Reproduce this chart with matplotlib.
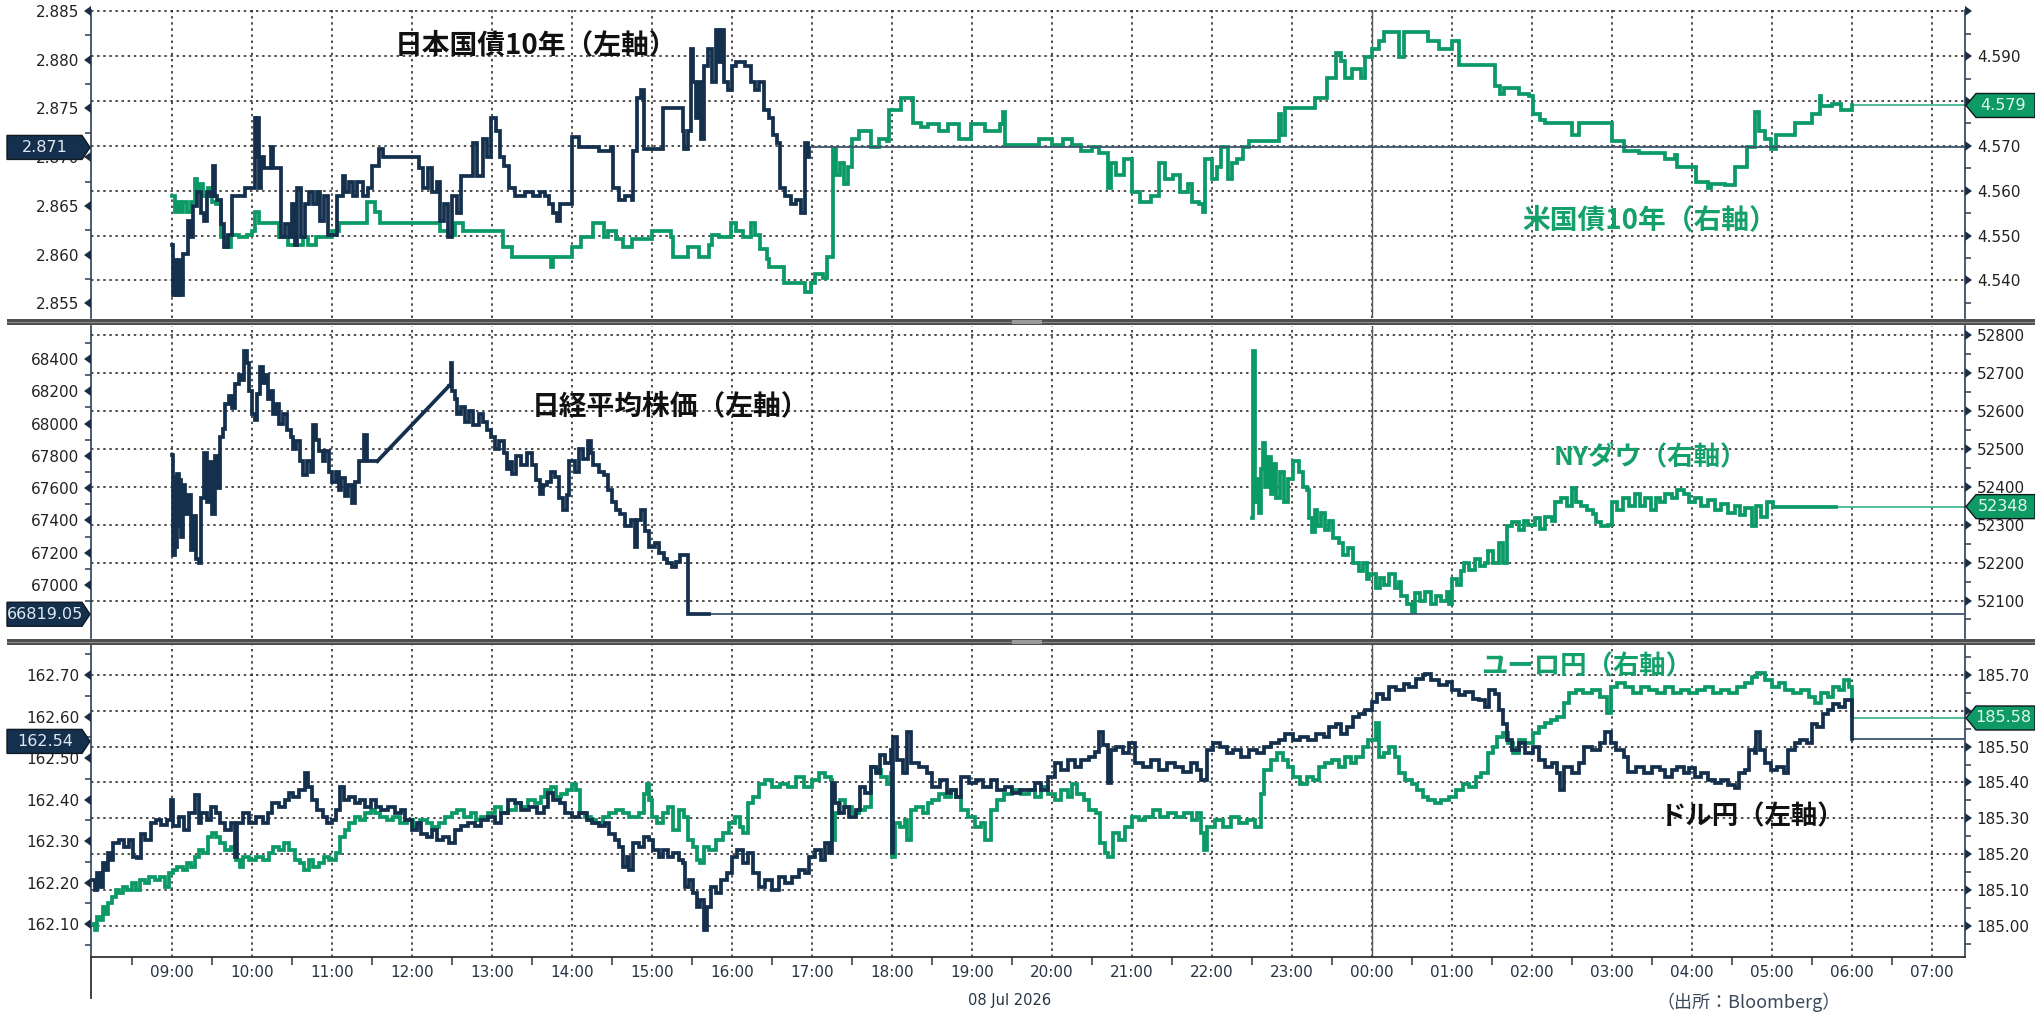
import matplotlib
matplotlib.use('Agg')
import matplotlib.pyplot as plt
import matplotlib.markers as mmarkers
from matplotlib.patches import Polygon, Rectangle
from matplotlib.lines import Line2D
from matplotlib.transforms import IdentityTransform
import numpy as np

plt.rcParams['font.family'] = 'DejaVu Sans'
JP = ['Noto Sans CJK JP', 'DejaVu Sans']

W, H = 2035, 1015
NAVY = '#14304d'
GREEN = '#0b9a66'
NAVY_THIN = '#3d5570'
GREEN_THIN = '#45b98c'
TXT = '#263445'

# ============================================================
# データ（時刻, 値）
# ============================================================
jgb10 = [("09:00", 2.8610), ("09:01", 2.8559), ("09:02", 2.8595), ("09:03", 2.8559), ("09:05", 2.8595),
         ("09:06", 2.8559), ("09:08", 2.8601), ("09:10", 2.8601), ("09:12", 2.8635), ("09:14", 2.8618),
         ("09:16", 2.8650), ("09:19", 2.8664), ("09:22", 2.8643), ("09:24", 2.8635), ("09:26", 2.8664),
         ("09:29", 2.8660), ("09:31", 2.8691), ("09:32", 2.8660), ("09:34", 2.8656), ("09:37", 2.8631),
         ("09:39", 2.8608), ("09:42", 2.8620), ("09:45", 2.8660), ("09:50", 2.8660), ("09:55", 2.8668),
         ("09:59", 2.8668), ("10:02", 2.8740), ("10:03", 2.8700), ("10:04", 2.8740), ("10:05", 2.8668),
         ("10:07", 2.8700), ("10:09", 2.8689), ("10:12", 2.8689), ("10:14", 2.8710), ("10:16", 2.8689),
         ("10:21", 2.8689), ("10:22", 2.8618), ("10:25", 2.8631), ("10:28", 2.8618), ("10:30", 2.8652),
         ("10:32", 2.8610), ("10:34", 2.8668), ("10:37", 2.8618), ("10:40", 2.8652), ("10:43", 2.8664),
         ("10:46", 2.8652), ("10:49", 2.8664), ("10:51", 2.8635), ("10:54", 2.8660), ("10:57", 2.8620),
         ("11:02", 2.8620), ("11:04", 2.8660), ("11:08", 2.8681), ("11:10", 2.8664), ("11:13", 2.8675),
         ("11:16", 2.8660), ("11:19", 2.8675), ("11:23", 2.8660), ("11:27", 2.8668), ("11:30", 2.8691),
         ("11:35", 2.8708), ("11:38", 2.8700), ("12:05", 2.8689), ("12:08", 2.8668), ("12:12", 2.8689),
         ("12:15", 2.8664), ("12:19", 2.8675), ("12:21", 2.8635), ("12:24", 2.8652), ("12:27", 2.8618),
         ("12:30", 2.8660), ("12:34", 2.8643), ("12:37", 2.8681), ("12:43", 2.8681), ("12:46", 2.8715),
         ("12:49", 2.8681), ("12:53", 2.8719), ("12:56", 2.8700), ("12:59", 2.8740), ("13:03", 2.8727),
         ("13:06", 2.8700), ("13:09", 2.8691), ("13:13", 2.8668), ("13:17", 2.8660), ("13:25", 2.8664),
         ("13:31", 2.8660), ("13:36", 2.8664), ("13:40", 2.8660), ("13:43", 2.8652), ("13:46", 2.8643),
         ("13:49", 2.8635), ("13:51", 2.8652), ("13:58", 2.8652), ("14:00", 2.8721), ("14:05", 2.8710),
         ("14:15", 2.8710), ("14:20", 2.8706), ("14:29", 2.8710), ("14:31", 2.8668), ("14:35", 2.8656),
         ("14:40", 2.8660), ("14:45", 2.8656), ("14:46", 2.8706), ("14:49", 2.8761), ("14:52", 2.8769),
         ("14:54", 2.8708), ("15:00", 2.8708), ("15:08", 2.8750), ("15:20", 2.8750), ("15:23", 2.8727),
         ("15:24", 2.8708), ("15:27", 2.8727), ("15:29", 2.8811), ("15:31", 2.8777), ("15:33", 2.8740),
         ("15:35", 2.8777), ("15:37", 2.8719), ("15:39", 2.8794), ("15:42", 2.8811), ("15:45", 2.8777),
         ("15:48", 2.8830), ("15:50", 2.8798), ("15:52", 2.8830), ("15:54", 2.8777), ("15:57", 2.8769),
         ("16:00", 2.8794), ("16:03", 2.8798), ("16:10", 2.8794), ("16:14", 2.8777), ("16:17", 2.8769),
         ("16:20", 2.8777), ("16:24", 2.8748), ("16:28", 2.8740), ("16:31", 2.8723), ("16:34", 2.8715),
         ("16:36", 2.8668), ("16:40", 2.8660), ("16:44", 2.8652), ("16:48", 2.8656), ("16:52", 2.8643),
         ("16:55", 2.8715), ("16:57", 2.8700), ("16:58", 2.8708)]

ust10 = [("09:00", 4.5588), ("09:02", 4.5552), ("09:04", 4.5575), ("09:06", 4.5552), ("09:08", 4.5575),
         ("09:11", 4.5552), ("09:14", 4.5575), ("09:17", 4.5625), ("09:19", 4.5597), ("09:21", 4.5616),
         ("09:23", 4.5588), ("09:27", 4.5607), ("09:30", 4.5575), ("09:33", 4.5570), ("09:37", 4.5497),
         ("09:40", 4.5474), ("09:44", 4.5502), ("09:50", 4.5497), ("09:56", 4.5502), ("10:00", 4.5511),
         ("10:02", 4.5552), ("10:05", 4.5529), ("10:18", 4.5529), ("10:20", 4.5497), ("10:27", 4.5479),
         ("10:33", 4.5479), ("10:38", 4.5497), ("10:42", 4.5479), ("10:48", 4.5497), ("11:00", 4.5511),
         ("11:05", 4.5529), ("11:25", 4.5529), ("11:26", 4.5575), ("11:32", 4.5552), ("11:36", 4.5529),
         ("12:19", 4.5529), ("12:21", 4.5511), ("12:27", 4.5502), ("12:32", 4.5529), ("12:38", 4.5511),
         ("13:08", 4.5474), ("13:15", 4.5452), ("13:42", 4.5452), ("13:44", 4.5429), ("13:46", 4.5452),
         ("14:00", 4.5474), ("14:07", 4.5497), ("14:16", 4.5529), ("14:21", 4.5529), ("14:24", 4.5497),
         ("14:27", 4.5511), ("14:33", 4.5493), ("14:38", 4.5474), ("14:45", 4.5493), ("15:00", 4.5511),
         ("15:14", 4.5497), ("15:16", 4.5452), ("15:27", 4.5474), ("15:35", 4.5452), ("15:43", 4.5479),
         ("15:45", 4.5502), ("15:50", 4.5497), ("15:59", 4.5529), ("16:03", 4.5511), ("16:08", 4.5497),
         ("16:14", 4.5529), ("16:17", 4.5502), ("16:21", 4.5470), ("16:26", 4.5447), ("16:28", 4.5429),
         ("16:39", 4.5393), ("16:55", 4.5374), ("16:59", 4.5393), ("17:02", 4.5415), ("17:08", 4.5406),
         ("17:11", 4.5452), ("17:16", 4.5693), ("17:18", 4.5634), ("17:21", 4.5661), ("17:24", 4.5616),
         ("17:27", 4.5652), ("17:30", 4.5716), ("17:35", 4.5734), ("17:44", 4.5698), ("17:50", 4.5716),
         ("17:56", 4.5711), ("17:58", 4.5780), ("18:07", 4.5807), ("18:16", 4.5752), ("18:22", 4.5743),
         ("18:27", 4.5748), ("18:35", 4.5734), ("18:42", 4.5748), ("18:50", 4.5716), ("18:59", 4.5748),
         ("19:10", 4.5734), ("19:21", 4.5748), ("19:23", 4.5775), ("19:25", 4.5702), ("19:50", 4.5716),
         ("20:00", 4.5702), ("20:08", 4.5716), ("20:15", 4.5702), ("20:22", 4.5689), ("20:30", 4.5698),
         ("20:35", 4.5684), ("20:42", 4.5607), ("20:44", 4.5661), ("20:48", 4.5634), ("20:54", 4.5670),
         ("21:00", 4.5597), ("21:06", 4.5575), ("21:14", 4.5588), ("21:20", 4.5661), ("21:25", 4.5625),
         ("21:31", 4.5634), ("21:36", 4.5597), ("21:42", 4.5616), ("21:45", 4.5575), ("21:50", 4.5570),
         ("21:53", 4.5552), ("21:55", 4.5670), ("22:00", 4.5625), ("22:04", 4.5652), ("22:07", 4.5698),
         ("22:12", 4.5625), ("22:15", 4.5661), ("22:19", 4.5670), ("22:23", 4.5698), ("22:28", 4.5711),
         ("22:50", 4.5770), ("22:52", 4.5725), ("22:55", 4.5784), ("23:17", 4.5807), ("23:26", 4.5852),
         ("23:33", 4.5907), ("23:37", 4.5889), ("23:40", 4.5852), ("23:45", 4.5871), ("23:52", 4.5852),
         ("23:55", 4.5898), ("00:00", 4.5916), ("00:05", 4.5934), ("00:09", 4.5953), ("00:20", 4.5898),
         ("00:24", 4.5953), ("00:42", 4.5934), ("00:50", 4.5916), ("01:00", 4.5934), ("01:05", 4.5880),
         ("01:32", 4.5834), ("01:36", 4.5816), ("01:39", 4.5830), ("01:50", 4.5816), ("01:58", 4.5811),
         ("02:01", 4.5770), ("02:06", 4.5757), ("02:10", 4.5752), ("02:30", 4.5725), ("02:35", 4.5752),
         ("03:00", 4.5711), ("03:09", 4.5689), ("03:20", 4.5684), ("03:40", 4.5670), ("03:47", 4.5679),
         ("03:49", 4.5652), ("04:03", 4.5620), ("04:12", 4.5607), ("04:14", 4.5616), ("04:25", 4.5612),
         ("04:32", 4.5652), ("04:41", 4.5698), ("04:47", 4.5775), ("04:50", 4.5734), ("04:55", 4.5716),
         ("04:59", 4.5693), ("05:03", 4.5725), ("05:17", 4.5752), ("05:30", 4.5770), ("05:36", 4.5811),
         ("05:37", 4.5789), ("05:45", 4.5793), ("05:52", 4.5780), ("06:00", 4.5790)]

nikkei_am = [("09:00", 67805), ("09:01", 67186), ("09:02", 67666), ("09:03", 67237), ("09:04", 67690),
             ("09:05", 67363), ("09:06", 67650), ("09:07", 67300), ("09:08", 67620), ("09:10", 67440),
             ("09:12", 67560), ("09:14", 67220), ("09:16", 67430), ("09:18", 67160), ("09:20", 67135),
             ("09:22", 67540), ("09:24", 67820), ("09:26", 67515), ("09:28", 67760), ("09:30", 67440),
             ("09:32", 67800), ("09:34", 67600), ("09:36", 67919), ("09:38", 67969), ("09:40", 68121),
             ("09:43", 68172), ("09:45", 68095), ("09:47", 68247), ("09:50", 68298), ("09:52", 68272),
             ("09:54", 68450), ("09:56", 68373), ("09:58", 68200), ("10:00", 68058), ("10:02", 68020),
             ("10:04", 68180), ("10:06", 68349), ("10:08", 68250), ("10:10", 68300), ("10:12", 68150),
             ("10:14", 68200), ("10:16", 68058), ("10:18", 68121), ("10:20", 68000), ("10:23", 68058),
             ("10:26", 67957), ("10:29", 67919), ("10:31", 67843), ("10:33", 67890), ("10:36", 67767),
             ("10:38", 67679), ("10:41", 67766), ("10:44", 67700), ("10:46", 67990), ("10:48", 67900),
             ("10:50", 67830), ("10:53", 67767), ("10:55", 67830), ("10:58", 67700), ("11:00", 67640),
             ("11:03", 67700), ("11:05", 67590), ("11:07", 67660), ("11:10", 67550), ("11:12", 67620),
             ("11:15", 67510), ("11:17", 67640), ("11:20", 67767), ("11:24", 67930), ("11:26", 67767),
             ("11:34", 67767)]

nikkei_pm = [("12:28", 68235), ("12:29", 68373), ("12:30", 68200), ("12:32", 68150), ("12:34", 68058),
             ("12:37", 68100), ("12:40", 68007), ("12:43", 68080), ("12:46", 67994), ("12:50", 68060),
             ("12:53", 68007), ("12:56", 67957), ("12:59", 67919), ("13:02", 67843), ("13:05", 67893),
             ("13:09", 67817), ("13:11", 67720), ("13:13", 67760), ("13:15", 67690), ("13:18", 67800),
             ("13:22", 67742), ("13:26", 67820), ("13:30", 67742), ("13:33", 67650), ("13:36", 67565),
             ("13:38", 67620), ("13:41", 67641), ("13:44", 67700), ("13:47", 67666), ("13:50", 67540),
             ("13:53", 67464), ("13:56", 67560), ("13:58", 67767), ("14:02", 67700), ("14:05", 67843),
             ("14:08", 67780), ("14:12", 67893), ("14:14", 67817), ("14:16", 67742), ("14:20", 67700),
             ("14:24", 67680), ("14:27", 67590), ("14:30", 67515), ("14:33", 67463), ("14:36", 67440),
             ("14:40", 67363), ("14:44", 67400), ("14:47", 67237), ("14:49", 67400), ("14:52", 67464),
             ("14:55", 67337), ("14:58", 67237), ("15:02", 67260), ("15:05", 67198), ("15:09", 67160),
             ("15:11", 67135), ("15:15", 67110), ("15:18", 67140), ("15:21", 67186), ("15:25", 67186),
             ("15:27", 66819.05), ("15:43", 66819.05)]

nydow = [("22:30", 52317), ("22:31", 52759), ("22:32", 52360), ("22:34", 52420), ("22:35", 52330),
         ("22:37", 52447), ("22:38", 52517), ("22:40", 52400), ("22:42", 52480), ("22:44", 52380),
         ("22:46", 52460), ("22:48", 52370), ("22:51", 52440), ("22:54", 52360), ("22:57", 52420),
         ("23:01", 52468), ("23:05", 52440), ("23:08", 52400), ("23:11", 52393), ("23:13", 52317),
         ("23:15", 52280), ("23:17", 52340), ("23:19", 52296), ("23:22", 52330), ("23:25", 52285),
         ("23:28", 52310), ("23:31", 52264), ("23:35", 52253), ("23:38", 52220), ("23:42", 52240),
         ("23:46", 52199), ("23:50", 52177), ("23:53", 52200), ("23:56", 52156), ("23:58", 52170),
         ("00:03", 52134), ("00:06", 52160), ("00:09", 52140), ("00:13", 52170), ("00:17", 52134),
         ("00:20", 52150), ("00:22", 52112), ("00:26", 52091), ("00:30", 52069), ("00:32", 52120),
         ("00:36", 52100), ("00:40", 52123), ("00:44", 52091), ("00:48", 52112), ("00:52", 52100),
         ("00:56", 52123), ("00:58", 52091), ("01:00", 52156), ("01:04", 52140), ("01:07", 52177),
         ("01:09", 52199), ("01:13", 52180), ("01:17", 52210), ("01:21", 52190), ("01:25", 52199),
         ("01:27", 52230), ("01:31", 52200), ("01:35", 52253), ("01:38", 52200), ("01:41", 52296),
         ("01:45", 52307), ("01:50", 52285), ("01:54", 52310), ("01:57", 52300), ("02:02", 52317),
         ("02:06", 52290), ("02:10", 52320), ("02:15", 52310), ("02:17", 52360), ("02:22", 52371),
         ("02:26", 52350), ("02:30", 52398), ("02:33", 52360), ("02:37", 52350), ("02:41", 52339),
         ("02:46", 52328), ("02:48", 52307), ("02:52", 52296), ("02:57", 52300), ("03:00", 52360),
         ("03:04", 52340), ("03:08", 52370), ("03:13", 52350), ("03:17", 52382), ("03:21", 52350),
         ("03:25", 52371), ("03:29", 52340), ("03:33", 52370), ("03:36", 52360), ("03:40", 52382),
         ("03:45", 52371), ("03:49", 52393), ("03:54", 52382), ("03:58", 52360), ("04:02", 52371),
         ("04:07", 52350), ("04:12", 52365), ("04:17", 52340), ("04:22", 52355), ("04:27", 52330),
         ("04:32", 52350), ("04:36", 52325), ("04:40", 52345), ("04:45", 52296), ("04:48", 52350),
         ("04:52", 52320), ("04:56", 52360), ("05:01", 52348), ("05:48", 52348)]

usdjpy = [("08:00", 162.206), ("08:02", 162.182), ("08:04", 162.222), ("08:06", 162.190), ("08:08", 162.246),
          ("08:10", 162.230), ("08:12", 162.270), ("08:14", 162.254), ("08:16", 162.294), ("08:20", 162.302),
          ("08:24", 162.286), ("08:28", 162.302), ("08:31", 162.262), ("08:34", 162.258), ("08:37", 162.318),
          ("08:40", 162.302), ("08:44", 162.343), ("08:48", 162.351), ("08:52", 162.339), ("08:56", 162.351),
          ("08:59", 162.399), ("09:01", 162.335), ("09:05", 162.359), ("09:09", 162.327), ("09:13", 162.367),
          ("09:17", 162.411), ("09:20", 162.343), ("09:22", 162.367), ("09:26", 162.351), ("09:29", 162.383),
          ("09:33", 162.367), ("09:36", 162.343), ("09:40", 162.327), ("09:44", 162.343), ("09:47", 162.262),
          ("09:49", 162.343), ("09:53", 162.367), ("09:58", 162.343), ("10:03", 162.359), ("10:08", 162.343),
          ("10:12", 162.367), ("10:15", 162.391), ("10:20", 162.383), ("10:25", 162.399), ("10:28", 162.415),
          ("10:31", 162.407), ("10:35", 162.423), ("10:40", 162.463), ("10:42", 162.431), ("10:45", 162.399),
          ("10:49", 162.375), ("10:53", 162.359), ("10:56", 162.343), ("11:00", 162.351), ("11:03", 162.375),
          ("11:06", 162.431), ("11:09", 162.399), ("11:13", 162.407), ("11:17", 162.391), ("11:21", 162.399),
          ("11:25", 162.383), ("11:29", 162.399), ("11:33", 162.383), ("11:37", 162.375), ("11:42", 162.383),
          ("11:47", 162.367), ("11:52", 162.375), ("11:55", 162.351), ("12:00", 162.327), ("12:04", 162.343),
          ("12:07", 162.318), ("12:11", 162.310), ("12:15", 162.327), ("12:19", 162.302), ("12:23", 162.310),
          ("12:28", 162.294), ("12:32", 162.327), ("12:37", 162.335), ("12:42", 162.343), ("12:47", 162.335),
          ("12:52", 162.351), ("12:57", 162.359), ("13:02", 162.343), ("13:07", 162.367), ("13:12", 162.399),
          ("13:17", 162.391), ("13:22", 162.375), ("13:28", 162.383), ("13:34", 162.367), ("13:39", 162.383),
          ("13:42", 162.415), ("13:46", 162.399), ("13:51", 162.391), ("13:55", 162.367), ("14:00", 162.359),
          ("14:05", 162.367), ("14:11", 162.351), ("14:15", 162.343), ("14:20", 162.335), ("14:25", 162.343),
          ("14:28", 162.318), ("14:32", 162.302), ("14:35", 162.286), ("14:38", 162.238), ("14:41", 162.262),
          ("14:43", 162.230), ("14:46", 162.294), ("14:50", 162.286), ("14:54", 162.310), ("14:58", 162.302),
          ("15:01", 162.278), ("15:05", 162.262), ("15:08", 162.278), ("15:12", 162.262), ("15:16", 162.270),
          ("15:20", 162.254), ("15:23", 162.246), ("15:25", 162.190), ("15:28", 162.206), ("15:31", 162.174),
          ("15:34", 162.142), ("15:36", 162.158), ("15:39", 162.086), ("15:41", 162.142), ("15:44", 162.190),
          ("15:48", 162.174), ("15:52", 162.206), ("15:56", 162.222), ("16:00", 162.262), ("16:04", 162.278),
          ("16:08", 162.246), ("16:12", 162.270), ("16:16", 162.222), ("16:20", 162.190), ("16:25", 162.206),
          ("16:30", 162.182), ("16:35", 162.214), ("16:40", 162.198), ("16:45", 162.214), ("16:50", 162.230),
          ("16:55", 162.222), ("16:58", 162.262), ("17:02", 162.278), ("17:07", 162.254), ("17:10", 162.294),
          ("17:13", 162.270), ("17:15", 162.439), ("17:17", 162.391), ("17:20", 162.367), ("17:24", 162.383),
          ("17:28", 162.359), ("17:33", 162.375), ("17:36", 162.431), ("17:40", 162.415), ("17:44", 162.479),
          ("17:48", 162.463), ("17:51", 162.507), ("17:55", 162.487), ("17:59", 162.519), ("18:00", 162.270),
          ("18:01", 162.550), ("18:04", 162.495), ("18:08", 162.463), ("18:11", 162.563), ("18:14", 162.487),
          ("18:20", 162.479), ("18:26", 162.463), ("18:30", 162.431), ("18:36", 162.447), ("18:41", 162.415),
          ("18:44", 162.423), ("18:48", 162.407), ("18:52", 162.455), ("18:58", 162.439), ("19:03", 162.447),
          ("19:08", 162.431), ("19:14", 162.447), ("19:19", 162.423), ("19:25", 162.431), ("19:30", 162.415),
          ("19:36", 162.423), ("19:43", 162.423), ("19:47", 162.439), ("19:52", 162.423), ("19:57", 162.455),
          ("20:02", 162.487), ("20:07", 162.471), ("20:12", 162.495), ("20:17", 162.479), ("20:22", 162.495),
          ("20:28", 162.503), ("20:32", 162.515), ("20:35", 162.563), ("20:38", 162.531), ("20:42", 162.439),
          ("20:44", 162.519), ("20:48", 162.527), ("20:53", 162.511), ("20:58", 162.535), ("21:02", 162.487),
          ("21:08", 162.479), ("21:14", 162.495), ("21:20", 162.471), ("21:26", 162.487), ("21:32", 162.479),
          ("21:38", 162.467), ("21:44", 162.487), ("21:49", 162.471), ("21:52", 162.447), ("21:56", 162.519),
          ("22:01", 162.535), ("22:06", 162.527), ("22:11", 162.511), ("22:16", 162.519), ("22:22", 162.503),
          ("22:28", 162.519), ("22:34", 162.511), ("22:39", 162.527), ("22:44", 162.535), ("22:50", 162.543),
          ("22:55", 162.559), ("23:01", 162.543), ("23:06", 162.551), ("23:12", 162.543), ("23:18", 162.559),
          ("23:24", 162.551), ("23:28", 162.575), ("23:33", 162.583), ("23:37", 162.559), ("23:41", 162.575),
          ("23:46", 162.599), ("23:50", 162.607), ("23:55", 162.615), ("00:00", 162.635), ("00:04", 162.655),
          ("00:08", 162.643), ("00:13", 162.671), ("00:18", 162.663), ("00:24", 162.679), ("00:28", 162.671),
          ("00:33", 162.691), ("00:38", 162.699), ("00:40", 162.703), ("00:44", 162.687), ("00:50", 162.675),
          ("00:56", 162.683), ("01:00", 162.663), ("01:05", 162.651), ("01:10", 162.659), ("01:16", 162.643),
          ("01:20", 162.639), ("01:25", 162.623), ("01:28", 162.663), ("01:32", 162.655), ("01:35", 162.615),
          ("01:38", 162.583), ("01:41", 162.543), ("01:45", 162.519), ("01:50", 162.535), ("01:55", 162.511),
          ("02:01", 162.527), ("02:05", 162.495), ("02:10", 162.479), ("02:15", 162.487), ("02:19", 162.463),
          ("02:21", 162.423), ("02:24", 162.479), ("02:30", 162.463), ("02:35", 162.487), ("02:39", 162.527),
          ("02:45", 162.519), ("02:51", 162.535), ("02:55", 162.563), ("02:59", 162.535), ("03:03", 162.519),
          ("03:09", 162.503), ("03:12", 162.467), ("03:18", 162.479), ("03:24", 162.463), ("03:30", 162.479),
          ("03:36", 162.471), ("03:40", 162.455), ("03:45", 162.471), ("03:49", 162.479), ("03:54", 162.463),
          ("03:58", 162.475), ("04:02", 162.455), ("04:07", 162.463), ("04:12", 162.447), ("04:17", 162.439),
          ("04:22", 162.447), ("04:27", 162.435), ("04:32", 162.427), ("04:35", 162.463), ("04:40", 162.471),
          ("04:43", 162.519), ("04:47", 162.511), ("04:48", 162.563), ("04:51", 162.519), ("04:55", 162.487),
          ("04:59", 162.471), ("05:04", 162.479), ("05:09", 162.463), ("05:12", 162.519), ("05:17", 162.535),
          ("05:21", 162.543), ("05:26", 162.535), ("05:30", 162.583), ("05:34", 162.575), ("05:38", 162.607),
          ("05:42", 162.615), ("05:46", 162.631), ("05:50", 162.623), ("05:55", 162.639), ("05:58", 162.639),
          ("06:00", 162.546)]

eurjpy = [("08:00", 185.006), ("08:02", 184.988), ("08:04", 185.025), ("08:06", 185.016), ("08:08", 185.053),
          ("08:10", 185.034), ("08:12", 185.062), ("08:15", 185.081), ("08:18", 185.099), ("08:20", 185.090),
          ("08:23", 185.109), ("08:26", 185.099), ("08:30", 185.118), ("08:33", 185.099), ("08:36", 185.127),
          ("08:40", 185.118), ("08:43", 185.137), ("08:47", 185.127), ("08:51", 185.137), ("08:55", 185.109),
          ("08:58", 185.146), ("09:01", 185.155), ("09:04", 185.165), ("09:08", 185.155), ("09:11", 185.174),
          ("09:14", 185.165), ("09:17", 185.193), ("09:20", 185.211), ("09:23", 185.202), ("09:27", 185.248),
          ("09:30", 185.258), ("09:33", 185.248), ("09:36", 185.230), ("09:40", 185.211), ("09:44", 185.220),
          ("09:48", 185.183), ("09:51", 185.165), ("09:53", 185.193), ("09:58", 185.183), ("10:03", 185.193),
          ("10:08", 185.183), ("10:13", 185.202), ("10:16", 185.220), ("10:20", 185.211), ("10:24", 185.230),
          ("10:28", 185.211), ("10:32", 185.183), ("10:36", 185.174), ("10:39", 185.155), ("10:43", 185.183),
          ("10:46", 185.165), ("10:50", 185.174), ("10:54", 185.193), ("10:58", 185.183), ("11:03", 185.202),
          ("11:06", 185.248), ("11:10", 185.267), ("11:13", 185.286), ("11:17", 185.304), ("11:21", 185.295),
          ("11:25", 185.314), ("11:29", 185.323), ("11:32", 185.314), ("11:36", 185.304), ("11:41", 185.295),
          ("11:46", 185.304), ("11:51", 185.286), ("11:56", 185.295), ("12:01", 185.276), ("12:06", 185.295),
          ("12:11", 185.286), ("12:15", 185.276), ("12:20", 185.286), ("12:25", 185.304), ("12:30", 185.314),
          ("12:34", 185.323), ("12:39", 185.304), ("12:44", 185.314), ("12:48", 185.295), ("12:52", 185.304),
          ("12:57", 185.314), ("13:02", 185.332), ("13:07", 185.314), ("13:12", 185.323), ("13:18", 185.342),
          ("13:22", 185.332), ("13:27", 185.351), ("13:32", 185.342), ("13:37", 185.360), ("13:40", 185.379),
          ("13:44", 185.388), ("13:48", 185.360), ("13:52", 185.369), ("13:56", 185.379), ("14:00", 185.397),
          ("14:03", 185.379), ("14:06", 185.314), ("14:10", 185.304), ("14:14", 185.295), ("14:18", 185.286),
          ("14:23", 185.304), ("14:28", 185.314), ("14:33", 185.323), ("14:38", 185.314), ("14:43", 185.304),
          ("14:50", 185.314), ("14:54", 185.369), ("14:56", 185.397), ("14:58", 185.351), ("15:00", 185.304),
          ("15:04", 185.286), ("15:08", 185.314), ("15:12", 185.332), ("15:16", 185.267), ("15:20", 185.323),
          ("15:24", 185.304), ("15:27", 185.239), ("15:31", 185.220), ("15:34", 185.183), ("15:36", 185.174),
          ("15:39", 185.220), ("15:43", 185.211), ("15:48", 185.239), ("15:53", 185.258), ("15:58", 185.286),
          ("16:02", 185.304), ("16:06", 185.276), ("16:08", 185.258), ("16:12", 185.342), ("16:16", 185.360),
          ("16:20", 185.397), ("16:25", 185.407), ("16:30", 185.388), ("16:36", 185.397), ("16:42", 185.388),
          ("16:48", 185.416), ("16:54", 185.388), ("17:00", 185.407), ("17:05", 185.425), ("17:10", 185.416),
          ("17:14", 185.407), ("17:15", 185.239), ("17:17", 185.314), ("17:21", 185.351), ("17:25", 185.332),
          ("17:30", 185.314), ("17:35", 185.323), ("17:40", 185.332), ("17:44", 185.444), ("17:48", 185.435),
          ("17:52", 185.416), ("17:56", 185.397), ("17:59", 185.425), ("18:00", 185.193), ("18:02", 185.286),
          ("18:06", 185.276), ("18:10", 185.295), ("18:11", 185.239), ("18:14", 185.323), ("18:18", 185.332),
          ("18:23", 185.314), ("18:27", 185.342), ("18:30", 185.351), ("18:35", 185.369), ("18:40", 185.360),
          ("18:44", 185.379), ("18:48", 185.360), ("18:52", 185.323), ("18:57", 185.304), ("19:02", 185.276),
          ("19:07", 185.286), ("19:10", 185.239), ("19:14", 185.323), ("19:19", 185.351), ("19:24", 185.369),
          ("19:30", 185.379), ("19:37", 185.369), ("19:43", 185.379), ("19:47", 185.360), ("19:52", 185.388),
          ("19:57", 185.369), ("20:02", 185.351), ("20:07", 185.379), ("20:12", 185.360), ("20:15", 185.397),
          ("20:19", 185.369), ("20:24", 185.351), ("20:28", 185.323), ("20:33", 185.314), ("20:36", 185.230),
          ("20:40", 185.202), ("20:42", 185.193), ("20:46", 185.258), ("20:50", 185.239), ("20:55", 185.276),
          ("21:00", 185.304), ("21:05", 185.295), ("21:10", 185.304), ("21:16", 185.323), ("21:21", 185.304),
          ("21:27", 185.314), ("21:33", 185.304), ("21:39", 185.314), ("21:45", 185.295), ("21:49", 185.314),
          ("21:52", 185.258), ("21:54", 185.211), ("21:56", 185.276), ("22:02", 185.295), ("22:08", 185.276),
          ("22:14", 185.304), ("22:20", 185.286), ("22:26", 185.295), ("22:32", 185.276), ("22:37", 185.369),
          ("22:39", 185.435), ("22:44", 185.463), ("22:49", 185.481), ("22:53", 185.463), ("22:57", 185.444),
          ("23:01", 185.416), ("23:06", 185.397), ("23:11", 185.416), ("23:16", 185.407), ("23:20", 185.444),
          ("23:25", 185.453), ("23:30", 185.463), ("23:35", 185.444), ("23:40", 185.472), ("23:44", 185.453),
          ("23:48", 185.472), ("23:53", 185.500), ("23:57", 185.518), ("00:03", 185.565), ("00:05", 185.472),
          ("00:09", 185.481), ("00:13", 185.500), ("00:17", 185.472), ("00:20", 185.425), ("00:25", 185.407),
          ("00:30", 185.397), ("00:34", 185.379), ("00:38", 185.360), ("00:42", 185.351), ("00:47", 185.342),
          ("00:52", 185.351), ("00:58", 185.360), ("01:03", 185.379), ("01:08", 185.397), ("01:13", 185.388),
          ("01:18", 185.416), ("01:22", 185.425), ("01:27", 185.481), ("01:31", 185.500), ("01:34", 185.528),
          ("01:38", 185.537), ("01:42", 185.509), ("01:46", 185.481), ("01:50", 185.518), ("01:55", 185.509),
          ("02:01", 185.537), ("02:05", 185.556), ("02:10", 185.565), ("02:14", 185.574), ("02:19", 185.583),
          ("02:24", 185.621), ("02:28", 185.649), ("02:33", 185.658), ("02:38", 185.649), ("02:45", 185.658),
          ("02:51", 185.639), ("02:56", 185.593), ("02:59", 185.667), ("03:04", 185.677), ("03:10", 185.667),
          ("03:16", 185.649), ("03:22", 185.667), ("03:28", 185.658), ("03:34", 185.649), ("03:40", 185.667),
          ("03:46", 185.649), ("03:52", 185.658), ("03:58", 185.649), ("04:04", 185.658), ("04:10", 185.667),
          ("04:16", 185.649), ("04:22", 185.658), ("04:28", 185.649), ("04:34", 185.667), ("04:40", 185.677),
          ("04:45", 185.695), ("04:49", 185.705), ("04:55", 185.686), ("05:00", 185.667), ("05:05", 185.677),
          ("05:10", 185.658), ("05:16", 185.649), ("05:22", 185.658), ("05:28", 185.639), ("05:32", 185.621),
          ("05:37", 185.649), ("05:42", 185.639), ("05:46", 185.667), ("05:50", 185.658), ("05:54", 185.686),
          ("05:58", 185.667), ("06:00", 185.585)]

# 最終値タグ
last_jgb, last_ust = 2.871, 4.579
last_nikkei, last_dow = 66819.05, 52348
last_usd, last_eur = 162.54, 185.58

# 軸目盛（タグに隠れるラベルは空文字）
jgb_ticks = [2.855, 2.860, 2.865, 2.870, 2.875, 2.880, 2.885]
ust_ticks = [4.54, 4.55, 4.56, 4.57, 4.58, 4.59, 4.60]
ust_hidden = [4.58, 4.60]
nk_ticks = [67000, 67200, 67400, 67600, 67800, 68000, 68200, 68400]
dow_ticks = [52100, 52200, 52300, 52400, 52500, 52600, 52700, 52800]
usd_ticks = [162.10, 162.20, 162.30, 162.40, 162.50, 162.60, 162.70]
eur_ticks = [185.00, 185.10, 185.20, 185.30, 185.40, 185.50, 185.60, 185.70]
eur_hidden = [185.60]
hour_ticks = list(range(1, 24))          # 09:00 .. 07:00


def hrs(s):
    h, m = map(int, s.split(':'))
    if h < 8:
        h += 24
    return h - 8 + m / 60.0


def tv(data):
    return [hrs(a) for a, _ in data], [b for _, b in data]


XMIN, XMAX = -0.0125, 23.4125

fig = plt.figure(figsize=(W / 100, H / 100), dpi=100)
fig.patch.set_facecolor('white')


def make_panel(top, bottom):
    rect = [91 / W, 1 - bottom / H, 1874 / W, (bottom - top) / H]
    b = fig.add_axes(rect)      # 右軸（グリッド）
    t = b.twinx()               # 左軸
    b.yaxis.tick_right()
    t.yaxis.tick_left()
    b.set_xlim(XMIN, XMAX)
    t.set_xlim(XMIN, XMAX)
    for s in t.spines.values():
        s.set_visible(False)
    b.spines['top'].set_visible(False)
    b.spines['bottom'].set_visible(False)
    for side in ('left', 'right'):
        b.spines[side].set_color('#2a3f55')
        b.spines[side].set_linewidth(1.2)
    b.set_xticks(hour_ticks)
    b.tick_params(axis='x', which='both', length=0, labelbottom=False)
    t.tick_params(axis='x', which='both', length=0, labelbottom=False)
    b.grid(True, which='major', axis='both', color='#1e1e1e',
           linestyle=(0, (1.6, 2.4)), linewidth=1.1)
    b.set_axisbelow(True)
    b.axvline(16, color='#555555', lw=1.0, zorder=1)
    return b, t


def style_y(ax, ticks, fmt, lim, side, minor_step, hidden=()):
    ax.set_ylim(*lim)
    ax.set_yticks(ticks)
    ax.set_yticklabels(['' if any(abs(v - h) < 1e-9 for h in hidden) else fmt.format(v)
                        for v in ticks])
    mn = np.arange(ticks[0] - minor_step, ticks[-1] + minor_step * 1.01, minor_step)
    ax.set_yticks([m for m in mn if lim[0] < m < lim[1]], minor=True)
    ax.tick_params(axis='y', which='major', length=6.5, width=0, pad=2,
                   labelsize=11, labelcolor='#222222')
    ax.tick_params(axis='y', which='minor', length=4, width=1.1, color='#2a3f55')
    mk = mmarkers.CARETLEFTBASE if side == 'left' else mmarkers.CARETRIGHTBASE
    for tk in ax.yaxis.get_major_ticks():
        ln = tk.tick1line if side == 'left' else tk.tick2line
        ln.set_marker(mk)
        ln.set_markersize(7)
        ln.set_markerfacecolor('#1b2d44')
        ln.set_markeredgecolor('#1b2d44')


def step_line(ax, data, color):
    x, y = tv(data)
    ax.plot(x, y, color=color, lw=2.7, drawstyle='steps-post', solid_joinstyle='miter', zorder=3)
    return x, y


# ---------------- パネル1：日米10年債 ----------------
b1, t1 = make_panel(10, 318)
style_y(b1, ust_ticks, '{:.3f}', (4.5316, 4.6003), 'right', 0.005, ust_hidden)
style_y(t1, jgb_ticks, '{:.3f}', (2.8535, 2.8851), 'left', 0.0025)
ux, uy = step_line(b1, ust10, GREEN)
b1.plot([ux[-1], XMAX], [last_ust, last_ust], color=GREEN_THIN, lw=1.3, zorder=2)
jx, jy = step_line(t1, jgb10, NAVY)
t1.plot([jx[-1], XMAX], [last_jgb, last_jgb], color=NAVY_THIN, lw=1.3, zorder=2)

# ---------------- パネル2：日経平均・NYダウ ----------------
b2, t2 = make_panel(326, 638)
style_y(b2, dow_ticks, '{:d}', (52001, 52825), 'right', 50)
style_y(t2, nk_ticks, '{:d}', (66672, 68604), 'left', 100)
dx, dy = step_line(b2, nydow, GREEN)
b2.plot([dx[-1], XMAX], [last_dow, last_dow], color=GREEN_THIN, lw=1.3, zorder=2)
ax_, ay_ = step_line(t2, nikkei_am, NAVY)
px_, py_ = step_line(t2, nikkei_pm, NAVY)
t2.plot([ax_[-1], px_[0]], [ay_[-1], py_[0]], color=NAVY, lw=2.7, zorder=3)
t2.plot([px_[-1], XMAX], [last_nikkei, last_nikkei], color=NAVY_THIN, lw=1.3, zorder=2)

# ---------------- パネル3：ドル円・ユーロ円 ----------------
b3, t3 = make_panel(645, 957)
style_y(b3, eur_ticks, '{:.2f}', (184.9126, 185.7838), 'right', 0.05, eur_hidden)
style_y(t3, usd_ticks, '{:.2f}', (162.0205, 162.7723), 'left', 0.05)
ex, ey = step_line(b3, eurjpy, GREEN)
b3.plot([ex[-1], XMAX], [last_eur, last_eur], color=GREEN_THIN, lw=1.3, zorder=2)
sx, sy = step_line(t3, usdjpy, NAVY)
t3.plot([sx[-1], XMAX], [sy[-1], sy[-1]], color=NAVY_THIN, lw=1.3, zorder=2)

b3.spines['bottom'].set_visible(True)
b3.spines['bottom'].set_color('#333333')
b3.spines['bottom'].set_linewidth(1.3)
b3.set_xticks(hour_ticks)
b3.set_xticklabels(['{:02d}:00'.format((8 + h) % 24) for h in hour_ticks])
b3.set_xticks([h + 0.5 for h in range(0, 23)], minor=True)
b3.tick_params(axis='x', which='major', length=0, pad=6, labelbottom=True,
               labelsize=11, labelcolor=TXT)
b3.tick_params(axis='x', which='minor', length=6, width=1.1, color='#333333')

# ---------------- 系列ラベル ----------------
def lab(x, y, s, color, size=20):
    fig.text(x / W, 1 - y / H, s, ha='center', va='center', fontsize=size,
             fontweight='bold', color=color, family=JP, zorder=10)


lab(536, 45, '日本国債10年（左軸）', '#111111')
lab(1650, 220, '米国債10年（右軸）', '#13a06a')
lab(670, 406, '日経平均株価（左軸）', '#111111')
lab(1650, 457, 'NYダウ（右軸）', '#13a06a', 19)
lab(1587, 667, 'ユーロ円（右軸）', '#13a06a', 19)
lab(1752, 817, 'ドル円（左軸）', '#111111', 19)

# ---------------- 最終値タグ ----------------
def tag(ax, val, text, side):
    y = ax.transData.transform((XMIN, val))[1]
    h = 12
    if side == 'left':
        pts = [(7, y - h), (82, y - h), (90, y), (82, y + h), (7, y + h)]
        fc, tc, xc = '#14304d', '#dfe8f2', 45
    else:
        pts = [(1966, y), (1976, y - h), (2035, y - h), (2035, y + h), (1976, y + h)]
        fc, tc, xc = '#0d9a64', '#e3f6ec', 2003
    fig.add_artist(Polygon(pts, closed=True, facecolor=fc, edgecolor='#101820',
                           lw=1.0, transform=IdentityTransform(), zorder=20))
    fig.text(xc / W, y / H, text, ha='center', va='center', fontsize=11.5,
             color=tc, zorder=21)


tag(t1, last_jgb, '2.871', 'left')
tag(b1, last_ust, '4.579', 'right')
tag(t2, last_nikkei, '66819.05', 'left')
tag(b2, last_dow, '52348', 'right')
tag(t3, last_usd, '162.54', 'left')
tag(b3, last_eur, '185.58', 'right')

# ---------------- 区切りバー ----------------
for ytop in (319, 639):
    fig.add_artist(Rectangle((7, H - ytop - 6), W - 7, 6, facecolor='#4f4f4f',
                             edgecolor='none', transform=IdentityTransform(), zorder=15))
    fig.add_artist(Line2D([7, W], [H - ytop - 3, H - ytop - 3], color='#8a8a8a', lw=0.8,
                          transform=IdentityTransform(), zorder=16))
    fig.add_artist(Rectangle((1012, H - ytop - 5), 30, 4, facecolor='#9a9a9a',
                             edgecolor='none', transform=IdentityTransform(), zorder=16))

# 左軸の延長線
fig.add_artist(Line2D([91, 91], [H - 957, H - 998], color='#333333', lw=1.3,
                      transform=IdentityTransform(), zorder=15))

fig.text(1010 / W, 1 - 1000 / H, '08 Jul 2026', ha='center', va='center',
         fontsize=10.5, color=TXT)
fig.text(1749 / W, 1 - 1002 / H, '（出所：Bloomberg）', ha='center', va='center',
         fontsize=13, color='#3a4a5a', family=JP)

fig.savefig('out.png', dpi=100, facecolor='white')
